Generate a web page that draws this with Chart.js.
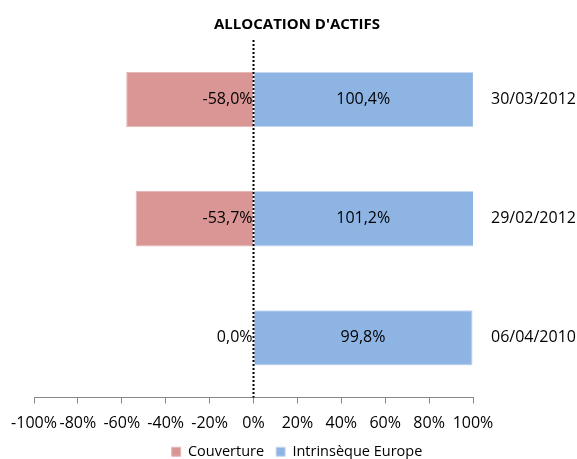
<!DOCTYPE html>
<html>
<head>
<meta charset="utf-8">
<script src="https://cdn.jsdelivr.net/npm/chart.js@4"></script>
<style>
  html, body { margin: 0; padding: 0; background: #fff; }
  #wrap { width: 577px; height: 459px; }
</style>
</head>
<body>
<div id="wrap"><canvas id="myChart"></canvas></div>
<script>
const DATES = ['30/03/2012', '29/02/2012', '06/04/2010'];
const COUVERTURE = [-58.0, -53.7, 0.0];
const INTRINSEQUE = [100.4, 101.2, 99.8];
const X_TICKS = [-100, -80, -60, -40, -20, 0, 20, 40, 60, 80, 100];

const FONT = "'Open Sans', 'Liberation Sans', sans-serif";

const fmt = (v) => v.toFixed(1).replace('.', ',') + '%';

// labels inside the bars + dotted line at zero
const barLabels = {
    id: 'barLabels',
    afterDatasetsDraw(chart) {
        const ctx = chart.ctx;
        const area = chart.chartArea;
        const x0 = chart.scales.x.getPixelForValue(0);
        ctx.save();
        ctx.font = '16px ' + FONT;
        ctx.fillStyle = '#000';
        ctx.textBaseline = 'middle';
        chart.data.datasets.forEach((ds, di) => {
            chart.getDatasetMeta(di).data.forEach((bar, i) => {
                const v = ds.data[i];
                if (di === 0) {
                    ctx.textAlign = 'right';
                    ctx.fillText(fmt(v), x0 - 1, bar.y);
                } else {
                    const end = Math.min(bar.x, area.right);
                    ctx.textAlign = 'center';
                    ctx.fillText(fmt(v), (x0 + end) / 2, bar.y);
                }
            });
        });
        // dotted zero line
        ctx.strokeStyle = '#000';
        ctx.lineWidth = 2;
        ctx.setLineDash([2, 2]);
        ctx.beginPath();
        ctx.moveTo(x0, area.top);
        ctx.lineTo(x0, area.bottom);
        ctx.stroke();
        ctx.restore();
    }
};

var ctx = document.getElementById('myChart');
var myChart = new Chart(ctx, {
    type: 'bar',
    data: {
        labels: DATES,
        datasets: [{
            label: 'Couverture',
            data: COUVERTURE,
            backgroundColor: '#d99694',
            borderColor: '#e6b9b8',
            borderWidth: 1,
            borderSkipped: false
        }, {
            label: 'Intrinsèque Europe',
            data: INTRINSEQUE,
            backgroundColor: '#8eb4e3',
            borderColor: '#c6d9f1',
            borderWidth: 1,
            borderSkipped: false
        }]
    },
    options: {
        indexAxis: 'y',
        responsive: true,
        maintainAspectRatio: false,
        animation: false,
        layout: { padding: { left: 17, right: 0, top: 0, bottom: -10 } },
        categoryPercentage: 1,
        barPercentage: 0.465,
        scales: {
            x: {
                stacked: true,
                min: -100,
                max: 100,
                afterBuildTicks(axis) {
                    axis.ticks = X_TICKS.map(v => ({ value: v }));
                },
                afterFit(axis) {
                    axis.paddingLeft = 34;
                    axis.paddingRight = 0;
                    axis.height = 35;
                },
                grid: {
                    display: true,
                    drawOnChartArea: false,
                    drawTicks: true,
                    tickLength: 6,
                    color: '#868686'
                },
                border: { display: true, color: '#868686', width: 1 },
                ticks: {
                    color: '#000',
                    font: { family: FONT, size: 16 },
                    padding: 10,
                    maxRotation: 0,
                    autoSkip: false,
                    callback: (v) => v + '%'
                }
            },
            y: {
                stacked: true,
                position: 'right',
                grid: { display: false, drawTicks: false },
                border: { display: false },
                afterFit(axis) { axis.width = 104; },
                ticks: {
                    color: '#000',
                    font: { family: FONT, size: 16 },
                    padding: 18
                }
            }
        },
        plugins: {
            title: {
                display: true,
                text: "ALLOCATION D'ACTIFS",
                color: '#000',
                font: { family: FONT, size: 15, weight: 'bold' },
                padding: { top: 16, bottom: 6 }
            },
            legend: {
                position: 'bottom',
                labels: {
                    color: '#000',
                    font: { family: FONT, size: 14.5 },
                    boxWidth: 9,
                    boxHeight: 9,
                    padding: 12
                }
            },
            tooltip: { enabled: false }
        }
    },
    plugins: [barLabels]
});
</script>
</body>
</html>
